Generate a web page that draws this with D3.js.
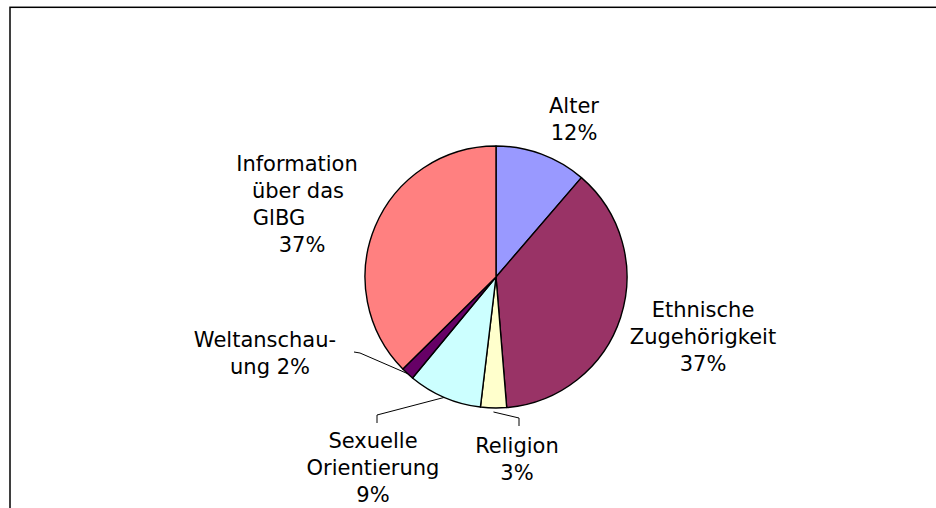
<!DOCTYPE html>
<html>
<head>
<meta charset="utf-8">
<script src="https://cdn.jsdelivr.net/npm/d3@7"></script>
<style>
  html, body { margin: 0; padding: 0; background: #fff; }
  svg { display: block; }
  text { font-family: Verdana, "DejaVu Sans", sans-serif; font-size: 21px; fill: #000; }
</style>
</head>
<body>
<div id="chart"></div>
<script>
// Slices, clockwise from 12 o'clock
const categories = ['Alter', 'Ethnische Zugehörigkeit', 'Religion', 'Sexuelle Orientierung', 'Weltanschauung', 'Information über das GlBG'];
const shares = [11.3, 37.4, 3.2, 9.1, 1.6, 37.4];
const pctLabels = ['12%', '37%', '3%', '9%', '2%', '37%'];
const labelLines = [
  ['Alter'],
  ['Ethnische', 'Zugehörigkeit'],
  ['Religion'],
  ['Sexuelle', 'Orientierung'],
  ['Weltanschau-', 'ung'],
  ['Information', 'über das', 'GlBG']
];
const pctInline = [false, false, false, false, true, false];
const colors = ['#9999FF', '#993366', '#FFFFCC', '#CCFFFF', '#660066', '#FF8080'];

const width = 936, height = 508;
const cx = 496, cy = 277, radius = 131;
const lineH = 27;

// label placement: center x, first baseline y, per-line shifts, leader elbow
const labelLayout = [
  { x: 574, y: 113 },
  { x: 703, y: 317 },
  { x: 517, y: 453, leader: [[519, 418], [519, 426]], leaderR: 4 },
  { x: 373, y: 448, leader: [[377, 415], [377, 423]] },
  { x: 267, y: 347, dx: [-2, 3], leader: [[360, 353], [354, 352]] },
  { x: 298, y: 171, dx: [-1, 0, -19, 4] }
];

const data = categories.map((c, i) => ({
  name: c, value: shares[i], pct: pctLabels[i], color: colors[i],
  lines: pctInline[i]
    ? labelLines[i].slice(0, -1).concat(labelLines[i][labelLines[i].length - 1] + ' ' + pctLabels[i])
    : labelLines[i].concat(pctLabels[i]),
  layout: labelLayout[i]
}));

const svg = d3.select('#chart')
  .append('svg')
  .attr('width', width)
  .attr('height', height);

// Frame (cropped chart area border)
svg.append('rect')
  .attr('x', 10).attr('y', 7.3)
  .attr('width', 1000).attr('height', 1000)
  .attr('fill', 'none')
  .attr('stroke', '#000')
  .attr('stroke-width', 1.5);

const pie = d3.pie().sort(null).value(d => d.value);
const arcs = pie(data);
const arc = d3.arc().innerRadius(0).outerRadius(radius);

const g = svg.append('g').attr('transform', `translate(${cx},${cy})`);

g.selectAll('path.slice')
  .data(arcs)
  .enter()
  .append('path')
  .attr('class', 'slice')
  .attr('d', arc)
  .attr('fill', d => d.data.color)
  .attr('stroke', '#000')
  .attr('stroke-width', 1.4)
  .attr('stroke-linejoin', 'round');

// Leader lines
arcs.forEach(d => {
  const lay = d.data.layout;
  if (!lay.leader) return;
  const mid = (d.startAngle + d.endAngle) / 2;
  const rr = radius + (lay.leaderR || 0);
  const px = cx + rr * Math.sin(mid);
  const py = cy - rr * Math.cos(mid);
  const pts = [[px, py]].concat(lay.leader);
  svg.append('path')
    .attr('d', d3.line()(pts))
    .attr('fill', 'none')
    .attr('stroke', '#000')
    .attr('stroke-width', 1);
});

// Labels
arcs.forEach(d => {
  const lay = d.data.layout;
  const t = svg.append('text').attr('text-anchor', 'middle');
  d.data.lines.forEach((ln, i) => {
    t.append('tspan')
      .attr('x', lay.x + (lay.dx ? lay.dx[i] : 0))
      .attr('y', lay.y + i * lineH)
      .text(ln);
  });
});
</script>
</body>
</html>
